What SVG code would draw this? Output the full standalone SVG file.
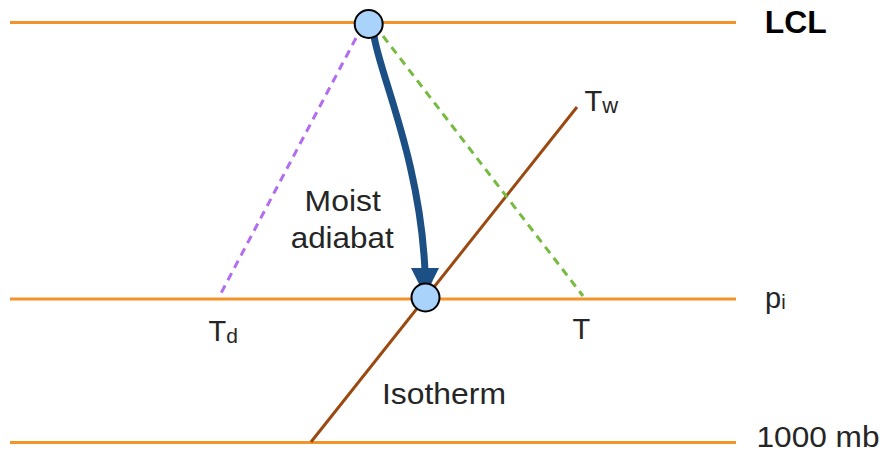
<svg xmlns="http://www.w3.org/2000/svg" width="882" height="452" viewBox="0 0 882 452">
<style>
.lvl{stroke:#f29428;stroke-width:3;fill:none}
.lbl{font-family:"Liberation Sans",Arial,sans-serif;font-size:29px;fill:#252525}
.pt{fill:#a9d3fb;stroke:#000;stroke-width:2}
.blue{fill:#1c4f84}
</style>
<g id="connectors">
<line class="lvl" x1="10" y1="22.5" x2="736" y2="22.5"/>
<line class="lvl" x1="10" y1="299" x2="736" y2="299"/>
<line class="lvl" x1="10" y1="442.5" x2="736" y2="442.5"/>
<line x1="311" y1="442" x2="577" y2="107" stroke="#9a4a10" stroke-width="3"/>
<line x1="356" y1="38" x2="219" y2="297" stroke="#b26cf0" stroke-width="3" stroke-dasharray="8,6"/>
<line x1="383" y1="36" x2="583" y2="296" stroke="#76bb40" stroke-width="3" stroke-dasharray="8,6"/>
<path d="M374,36 C380,75 420,160 425,271" stroke="#1c4f84" stroke-width="7" fill="none"/>
<polygon class="blue" points="411,268 439,268 425,296"/>
</g>
<g id="lcl-point"><circle class="pt" cx="368.7" cy="24" r="14"/></g>
<g id="pi-point"><circle class="pt" cx="425.5" cy="297.5" r="14"/></g>
<g id="labels">
<text x="764.7" y="33" font-family="Liberation Sans, Arial, sans-serif" font-size="31" font-weight="bold" fill="#000" textLength="62" lengthAdjust="spacingAndGlyphs">LCL</text>
<text class="lbl" x="584.5" y="111" font-size="30">T<tspan font-size="22" dy="2">w</tspan></text>
<text class="lbl" x="304.6" y="211" textLength="76.2" lengthAdjust="spacingAndGlyphs">Moist</text>
<text class="lbl" x="290.7" y="248" textLength="103" lengthAdjust="spacingAndGlyphs">adiabat</text>
<text class="lbl" x="208.5" y="341" font-size="30">T<tspan font-size="21" dy="2">d</tspan></text>
<text class="lbl" x="572.5" y="339" font-size="30">T</text>
<text class="lbl" x="765" y="307.5" font-size="28">p<tspan font-size="20" dy="1">i</tspan></text>
<text class="lbl" x="382" y="404" textLength="124" lengthAdjust="spacingAndGlyphs">Isotherm</text>
<text class="lbl" x="756.5" y="447" textLength="123" lengthAdjust="spacingAndGlyphs">1000 mb</text>
</g>
</svg>
